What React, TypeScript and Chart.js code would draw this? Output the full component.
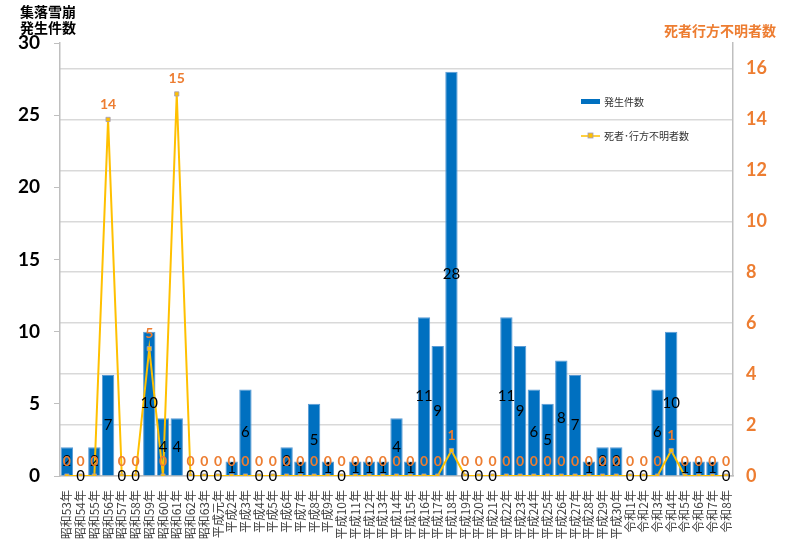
import { useEffect, useRef } from 'react';
import Chart from 'chart.js/auto';
import type { ChartConfiguration, Plugin } from 'chart.js';
import React from 'react';

const categories = [
  '昭和53年', '昭和54年', '昭和55年', '昭和56年', '昭和57年', '昭和58年', '昭和59年',
  '昭和60年', '昭和61年', '昭和62年', '昭和63年', '平成元年', '平成2年', '平成3年',
  '平成4年', '平成5年', '平成6年', '平成7年', '平成8年', '平成9年', '平成10年',
  '平成11年', '平成12年', '平成13年', '平成14年', '平成15年', '平成16年', '平成17年',
  '平成18年', '平成19年', '平成20年', '平成21年', '平成22年', '平成23年', '平成24年',
  '平成25年', '平成26年', '平成27年', '平成28年', '平成29年', '平成30年', '令和1年',
  '令和2年', '令和3年', '令和4年', '令和5年', '令和6年', '令和7年', '令和8年',
];

const avalancheCounts = [
  2, 0, 2, 7, 0, 0, 10, 4, 4, 0, 0, 0, 1, 6, 0, 0, 2, 1, 5, 1, 0, 1, 1, 1, 4,
  1, 11, 9, 28, 0, 0, 0, 11, 9, 6, 5, 8, 7, 1, 2, 2, 0, 0, 6, 10, 1, 1, 1, 0,
];

const casualties = [
  0, 0, 0, 14, 0, 0, 5, 0, 15, 0, 0, 0, 0, 0, 0, 0, 0, 0, 0, 0, 0, 0, 0, 0, 0,
  0, 0, 0, 1, 0, 0, 0, 0, 0, 0, 0, 0, 0, 0, 0, 0, 0, 0, 0, 1, 0, 0, 0, 0,
];

const leftTicks = { min: 0, max: 30, step: 5 };
const rightTicks = { min: 0, max: 17, step: 2 };

const BLUE = '#0070C0';
const GOLD = '#FFC000';
const ORANGE = '#ED7D31';
const JP = '"Noto Sans CJK JP", "Noto Sans", sans-serif';
const NUM = 'Lato, "Noto Sans", sans-serif';

const decorPlugin: Plugin<'bar'> = {
  id: 'decor',
  afterDatasetsDraw(chart) {
    const ctx = chart.ctx;
    ctx.save();
    ctx.textAlign = 'center';
    ctx.textBaseline = 'middle';

    // bar values, centered in the bar
    ctx.font = `15px ${NUM}`;
    ctx.fillStyle = '#000';
    chart.getDatasetMeta(1).data.forEach((bar: any, i) => {
      const p = bar.getProps(['x', 'y', 'base'], true);
      ctx.fillText(String(avalancheCounts[i]), p.x, (p.y + p.base) / 2);
    });

    // casualty values above points
    ctx.font = `bold 14px ${NUM}`;
    ctx.fillStyle = ORANGE;
    chart.getDatasetMeta(0).data.forEach((pt: any, i) => {
      ctx.fillText(String(casualties[i]), pt.x, pt.y - 15);
    });

    // axis titles
    ctx.font = `bold 14px ${JP}`;
    ctx.fillStyle = '#000';
    ctx.textAlign = 'left';
    ctx.fillText('集落雪崩', 20, 12);
    ctx.fillText('発生件数', 20, 28);
    ctx.fillStyle = ORANGE;
    ctx.textAlign = 'right';
    ctx.fillText('死者行方不明者数', 776, 31);

    // legend
    ctx.textAlign = 'left';
    ctx.font = `10px ${JP}`;
    ctx.fillStyle = BLUE;
    ctx.fillRect(581, 99, 19, 5);
    ctx.fillStyle = '#333';
    ctx.fillText('発生件数', 604, 102);

    ctx.strokeStyle = GOLD;
    ctx.lineWidth = 1.5;
    ctx.beginPath();
    ctx.moveTo(581, 136);
    ctx.lineTo(600, 136);
    ctx.stroke();
    ctx.fillStyle = GOLD;
    ctx.fillRect(588, 133, 5, 5);
    ctx.strokeStyle = '#a09cc0';
    ctx.lineWidth = 0.8;
    ctx.strokeRect(588, 133, 5, 5);
    ctx.fillStyle = '#333';
    ctx.fillText('死者･行方不明者数', 604, 136);

    ctx.restore();
  },
};

const App = () => {
  const canvasRef = useRef<HTMLCanvasElement>(null);

  useEffect(() => {
    document.body.style.margin = '0';
    if (!canvasRef.current) {
      return;
    }

    const config: ChartConfiguration<'bar'> = {
      type: 'bar',
      data: {
        labels: categories,
        datasets: [
          {
            type: 'line' as any,
            label: '死者･行方不明者数',
            data: casualties,
            yAxisID: 'y1',
            borderColor: GOLD,
            borderWidth: 2,
            backgroundColor: GOLD,
            pointStyle: 'rect',
            pointRadius: 3,
            pointBorderColor: '#a09cc0',
            pointBorderWidth: 0.8,
            pointBackgroundColor: GOLD,
            tension: 0,
            order: 0,
          } as any,
          {
            label: '発生件数',
            data: avalancheCounts,
            yAxisID: 'y',
            backgroundColor: BLUE,
            borderColor: '#5b9bd5',
            borderWidth: 1,
            categoryPercentage: 0.9,
            barPercentage: 1,
            order: 1,
          },
        ],
      },
      options: {
        animation: false,
        responsive: false,
        layout: { padding: { left: 8, right: 0, top: 43, bottom: 0 } },
        plugins: {
          legend: { display: false },
          tooltip: { enabled: false },
        },
        scales: {
          x: {
            grid: { display: false },
            border: { color: '#bfbfbf', width: 1.5 },
            ticks: {
              autoSkip: false,
              minRotation: 90,
              maxRotation: 90,
              padding: 6,
              color: '#404040',
              font: { family: JP, size: 12 },
            },
            afterFit(scale) {
              scale.height = 70;
            },
          },
          y: {
            position: 'left',
            min: leftTicks.min,
            max: leftTicks.max,
            grid: { drawOnChartArea: false, drawTicks: true, tickLength: 6, color: '#bfbfbf' },
            border: { color: '#bfbfbf', width: 1.5 },
            ticks: {
              stepSize: leftTicks.step,
              padding: 14,
              color: '#000',
              font: { family: NUM, size: 19, weight: 'bold' },
            },
            afterFit(scale) {
              scale.width = 52;
            },
          },
          y1: {
            position: 'right',
            min: rightTicks.min,
            max: rightTicks.max,
            grid: { drawOnChartArea: true, drawTicks: false, color: '#d9d9d9', lineWidth: 1.5 },
            border: { color: '#bfbfbf', width: 1.5 },
            ticks: {
              stepSize: rightTicks.step,
              includeBounds: false,
              padding: 13,
              color: ORANGE,
              font: { family: NUM, size: 18, weight: 'bold' },
            },
            afterFit(scale) {
              scale.width = 67;
            },
          },
        },
      },
      plugins: [decorPlugin],
    };

    const chart = new Chart(canvasRef.current, config);

    return () => {
      chart.destroy();
    };
  }, []);

  return (
    <div style={{ width: 800, height: 546 }}>
      <canvas ref={canvasRef} width={800} height={546} />
    </div>
  );
};

export default App;
